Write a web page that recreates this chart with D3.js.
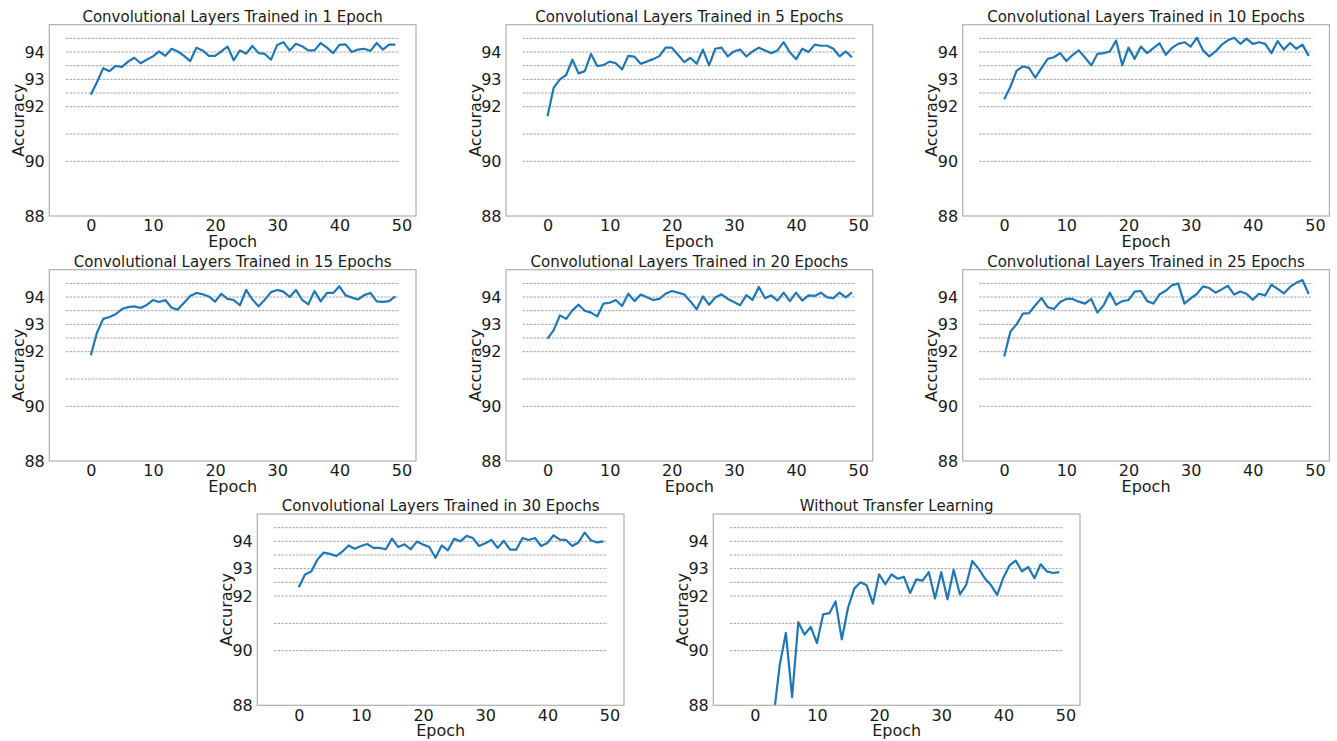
<!DOCTYPE html>
<html>
<head>
<meta charset="utf-8">
<script src="https://cdn.jsdelivr.net/npm/d3@7"></script>
<style>
  body { margin: 0; background: #fff; }
  text { font-family: "DejaVu Sans", sans-serif; fill: #1a1a1a; }
</style>
</head>
<body>
<div id="chart"></div>
<script>
var canvasWidth = 1337;
var canvasHeight = 741;

// data
var epochs = d3.range(0, 50);
var titles = [
  "Convolutional Layers Trained in 1 Epoch",
  "Convolutional Layers Trained in 5 Epochs",
  "Convolutional Layers Trained in 10 Epochs",
  "Convolutional Layers Trained in 15 Epochs",
  "Convolutional Layers Trained in 20 Epochs",
  "Convolutional Layers Trained in 25 Epochs",
  "Convolutional Layers Trained in 30 Epochs",
  "Without Transfer Learning"
];
var acc1 = [92.44,92.9,93.41,93.3,93.49,93.46,93.65,93.79,93.59,93.72,
  93.84,94.02,93.86,94.12,94.02,93.86,93.67,94.16,94.06,93.86,
  93.86,94.02,94.2,93.7,94.06,93.94,94.22,93.96,93.93,93.72,
  94.26,94.36,94.06,94.3,94.21,94.06,94.06,94.33,94.16,93.96,
  94.26,94.28,94.0,94.09,94.12,94.04,94.33,94.09,94.27,94.27];
var acc5 = [91.65,92.7,93.0,93.16,93.72,93.22,93.3,93.93,93.49,93.52,
  93.65,93.59,93.36,93.86,93.83,93.57,93.65,93.74,93.85,94.16,
  94.16,93.9,93.63,93.79,93.57,94.09,93.51,94.12,94.16,93.84,
  94.02,94.09,93.84,94.02,94.16,94.06,93.96,94.06,94.36,93.99,
  93.74,94.12,94.0,94.27,94.23,94.23,94.12,93.84,94.02,93.81];
var acc10 = [92.27,92.73,93.32,93.47,93.42,93.06,93.41,93.75,93.81,93.96,
  93.67,93.89,94.06,93.8,93.51,93.93,93.96,94.02,94.42,93.52,
  94.16,93.75,94.2,93.96,94.14,94.32,93.9,94.15,94.3,94.36,
  94.2,94.52,94.06,93.84,94.02,94.27,94.43,94.52,94.3,94.49,
  94.3,94.36,94.3,93.96,94.4,94.09,94.33,94.12,94.27,93.86];
var acc15 = [91.87,92.7,93.2,93.27,93.37,93.56,93.63,93.66,93.6,93.71,
  93.89,93.82,93.89,93.61,93.54,93.79,94.04,94.15,94.1,94.02,
  93.83,94.12,93.93,93.89,93.7,94.26,93.91,93.66,93.9,94.18,
  94.26,94.2,94.0,94.26,93.9,93.73,94.22,93.84,94.15,94.15,
  94.39,94.06,93.98,93.91,94.07,94.15,93.84,93.82,93.85,94.02];
var acc20 = [92.48,92.79,93.33,93.2,93.51,93.72,93.5,93.43,93.29,93.76,
  93.79,93.89,93.67,94.12,93.85,94.09,93.99,93.89,93.93,94.12,
  94.22,94.16,94.09,93.84,93.55,94.02,93.72,93.98,94.1,93.93,
  93.82,93.7,94.07,93.9,94.37,93.96,94.06,93.87,94.16,93.85,
  94.16,93.87,94.06,94.04,94.16,93.99,93.96,94.16,93.99,94.17];
var acc25 = [91.82,92.74,93.0,93.39,93.41,93.7,93.96,93.63,93.56,93.82,
  93.93,93.93,93.83,93.76,93.93,93.43,93.7,94.16,93.72,93.85,
  93.89,94.2,94.22,93.85,93.76,94.1,94.23,94.43,94.49,93.76,
  93.95,94.11,94.39,94.33,94.16,94.28,94.41,94.09,94.2,94.12,
  93.9,94.12,94.06,94.45,94.3,94.13,94.37,94.52,94.62,94.11];
var acc30 = [92.32,92.79,92.9,93.33,93.59,93.54,93.46,93.62,93.85,93.73,
  93.83,93.9,93.76,93.76,93.71,94.1,93.79,93.89,93.71,93.99,
  93.88,93.79,93.4,93.85,93.67,94.09,94.0,94.2,94.12,93.83,
  93.93,94.05,93.76,94.02,93.7,93.7,94.12,94.05,94.12,93.83,
  93.94,94.22,94.06,94.05,93.83,93.96,94.32,94.04,93.96,94.0];
var accNoTL = [82.0,85.0,86.5,87.53,89.46,90.65,88.3,91.04,90.59,90.87,
  90.28,91.33,91.37,91.8,90.41,91.57,92.27,92.5,92.39,91.72,
  92.79,92.43,92.79,92.63,92.7,92.11,92.61,92.56,92.87,91.91,
  92.87,91.88,92.96,92.06,92.4,93.28,93.0,92.65,92.4,92.04,
  92.67,93.12,93.29,92.9,93.06,92.65,93.16,92.9,92.84,92.87];
var series = [acc1, acc5, acc10, acc15, acc20, acc25, acc30, accNoTL];

var yTicks = [88, 90, 92, 93, 94];
var gridValues = [90, 91, 92, 92.5, 93, 93.5, 94, 94.5];
var xTicks = [0, 10, 20, 30, 40, 50];

// layout
var plotW = 366.7, plotH = 191.3;
var lefts = [49.3, 506, 962.7, 49.3, 506, 962.7, 257.3, 713.3];
var tops = [24.7, 24.7, 24.7, 269.7, 269.7, 269.7, 514, 514];

var svg = d3.select("#chart")
    .append("svg")
    .attr("width", canvasWidth)
    .attr("height", canvasHeight);

var x = d3.scaleLinear().domain([-6.68, 52.33]).range([0, plotW]);
var y = d3.scaleLinear().domain([88, 95]).range([plotH, 0]);

var line = d3.line()
    .x(function(d, i) { return x(epochs[i]); })
    .y(function(d) { return y(d); });

series.forEach(function(vals, k) {
    var g = svg.append("g")
        .attr("transform", "translate(" + lefts[k] + "," + tops[k] + ")");

    g.append("clipPath").attr("id", "clip" + k)
        .append("rect").attr("width", plotW).attr("height", plotH);

    g.selectAll(".grid")
        .data(gridValues)
        .join("line")
        .attr("class", "grid")
        .attr("x1", x(-4)).attr("x2", x(49.65))
        .attr("y1", function(d) { return y(d); })
        .attr("y2", function(d) { return y(d); })
        .attr("stroke", "#8c8c8c")
        .attr("stroke-width", 0.8)
        .attr("stroke-dasharray", "2.5,1.2");

    g.append("path")
        .datum(vals)
        .attr("d", line)
        .attr("fill", "none")
        .attr("stroke", "#1f77b4")
        .attr("stroke-width", 2.2)
        .attr("stroke-linejoin", "round")
        .attr("clip-path", "url(#clip" + k + ")");

    g.append("rect")
        .attr("width", plotW).attr("height", plotH)
        .attr("fill", "none")
        .attr("stroke", "#b0b0b0")
        .attr("stroke-width", 1.2);

    var ya = g.append("g")
        .call(d3.axisLeft(y).tickValues(yTicks).tickFormat(d3.format("d"))
            .tickSize(0).tickPadding(4.5));
    ya.select(".domain").remove();
    ya.selectAll("text").style("font-size", "16px").attr("fill", "#1a1a1a");

    var xa = g.append("g")
        .attr("transform", "translate(0," + plotH + ")")
        .call(d3.axisBottom(x).tickValues(xTicks).tickFormat(d3.format("d"))
            .tickSize(0).tickPadding(4));
    xa.select(".domain").remove();
    xa.selectAll("text").style("font-size", "16px").attr("fill", "#1a1a1a");

    g.append("text")
        .attr("x", plotW / 2).attr("y", -3)
        .attr("text-anchor", "middle")
        .style("font-size", "15px")
        .text(titles[k]);

    g.append("text")
        .attr("x", plotW / 2).attr("y", plotH + 31)
        .attr("text-anchor", "middle")
        .style("font-size", "16px")
        .text("Epoch");

    g.append("text")
        .attr("transform", "translate(-25.3," + (plotH / 2) + ") rotate(-90)")
        .attr("text-anchor", "middle")
        .style("font-size", "16px")
        .text("Accuracy");
});
</script>
</body>
</html>
